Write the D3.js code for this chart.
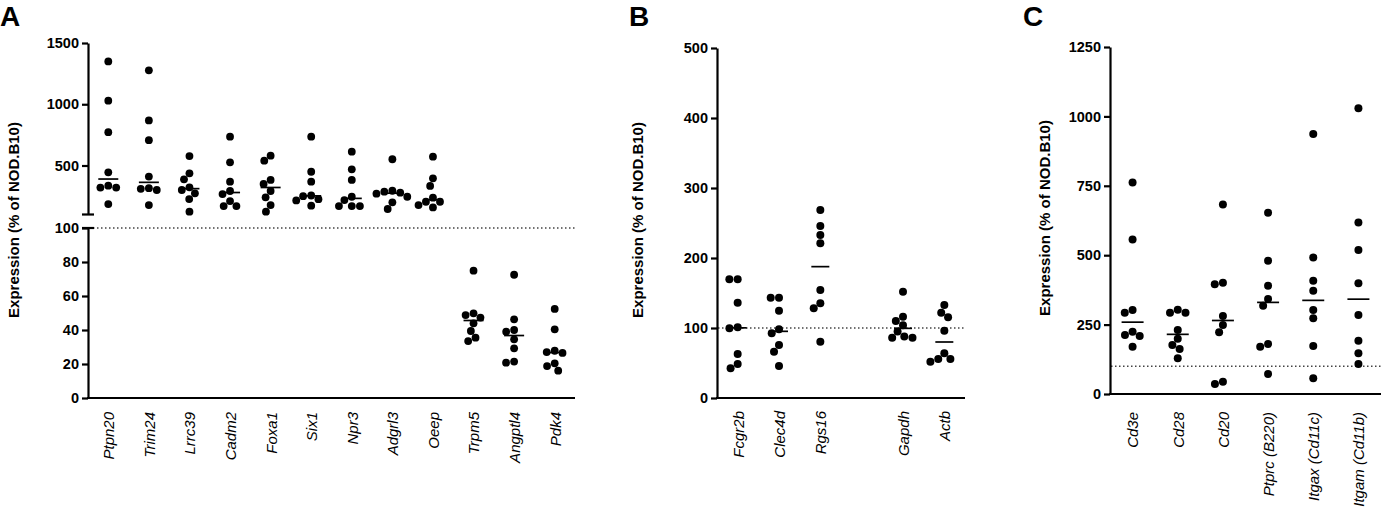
<!DOCTYPE html>
<html>
<head>
<meta charset="utf-8">
<script src="https://cdn.jsdelivr.net/npm/d3@7"></script>
<style>
  body { margin: 0; background: #fff; }
  text { font-family: "Liberation Sans", Arial, sans-serif; }
</style>
</head>
<body>
<svg id="chart" width="1381" height="508"></svg>
<script>
// panel A: genes, expression (% of NOD.B10), one array per gene
const genesA = ['Ptpn20', 'Trim24', 'Lrrc39', 'Cadm2', 'Foxa1', 'Six1', 'Npr3', 'Adgrl3', 'Oeep', 'Trpm5', 'Angptl4', 'Pdk4'];
const valuesA = [
  [1350, 1029, 772, 444, 335, 320, 320, 185],
  [1277, 868, 707, 410, 315, 310, 300, 177],
  [577, 436, 387, 322, 300, 273, 226, 123],
  [735, 526, 368, 292, 267, 210, 169, 169],
  [580, 539, 382, 349, 292, 240, 177, 123],
  [735, 449, 368, 255, 250, 225, 215, 172],
  [613, 469, 382, 245, 218, 169, 169, 169],
  [551, 294, 286, 278, 270, 245, 199, 145],
  [572, 395, 333, 237, 204, 204, 177, 158],
  [74.9, 49.8, 48.8, 47.3, 43.9, 39.4, 35.5, 33.5],
  [72.5, 46.3, 40.0, 39.0, 34.5, 29.2, 21.4, 20.8],
  [52.4, 40.4, 27.8, 27.0, 26.5, 20.4, 18.8, 16.1]
];
const ticksATop = [500, 1000, 1500];
const ticksABottom = [0, 20, 40, 60, 80, 100];

// panel B ('' is the empty slot between the two groups)
const genesB = ['Fcgr2b', 'Clec4d', 'Rgs16', '', 'Gapdh', 'Actb'];
const valuesB = [
  [169.5, 169.5, 136.2, 101, 99.5, 62.9, 48.6, 42.4],
  [143.3, 143.3, 124.8, 98.1, 92.4, 75.7, 66.2, 45.7],
  [268.6, 245.7, 232.9, 221, 154.3, 135.3, 128.1, 80.5],
  [],
  [151.9, 116, 110, 104, 95, 88, 86, 86],
  [132.9, 121.9, 115.2, 96.2, 63.8, 55.7, 55.7, 51.9]
];
const ticksB = [0, 100, 200, 300, 400, 500];

// panel C
const genesC = ['Cd3e', 'Cd28', 'Cd20', 'Ptprc (B220)', 'Itgax (Cd11c)', 'Itgam (Cd11b)'];
const valuesC = [
  [762, 557, 303, 293, 224.5, 212.5, 209, 170.5],
  [303.8, 293, 293, 230.5, 199.3, 176.5, 162, 128.5],
  [683, 401, 395, 281, 248.6, 222, 44.4, 36],
  [653, 480, 390, 342, 318, 180, 170.5, 72],
  [936.6, 492, 408, 372, 302.6, 272.6, 173, 56.4],
  [1029, 618, 518.7, 398.6, 284.6, 192, 146.5, 108]
];
const ticksC = [0, 250, 500, 750, 1000, 1250];

const yTitle = 'Expression (% of NOD.B10)';
const svg = d3.select('#chart');

// simple beeswarm so points with close values sit side by side
function swarm(vals, y, d) {
  const placed = [];
  return vals.map(v => {
    const py = y(v);
    const cands = [0];
    placed.forEach(p => {
      const dy = Math.abs(p.y - py);
      if (dy < d) {
        const dx = Math.sqrt(d * d - dy * dy) + 0.01;
        cands.push(p.x - dx, p.x + dx);
      }
    });
    cands.sort((a, b) => Math.abs(a) - Math.abs(b) || a - b);
    const x = cands.find(c => placed.every(p => (p.x - c) ** 2 + (p.y - py) ** 2 >= d * d - 0.05));
    placed.push({ x: x, y: py });
    return { v: v, x: x, y: py };
  });
}

function styleAxis(g) {
  g.select('.domain').attr('stroke', '#000').attr('stroke-width', 2.2);
  g.selectAll('.tick line').attr('stroke', '#000').attr('stroke-width', 2.2);
  g.selectAll('.tick text')
    .attr('font-family', '"Liberation Sans", Arial, sans-serif')
    .attr('font-size', 14.5)
    .attr('font-weight', 'bold')
    .attr('fill', '#000');
}

function yAxis(g, scale, ticks, x0) {
  const a = g.append('g')
    .attr('transform', `translate(${x0},0)`)
    .call(d3.axisLeft(scale).tickValues(ticks).tickSize(6).tickSizeOuter(0).tickPadding(3).tickFormat(d3.format('d')));
  styleAxis(a);
  return a;
}

function drawPanel(opt) {
  const g = svg.append('g');
  const x = d3.scalePoint().domain(opt.genes).range([opt.x0, opt.x1]).padding(0.5);

  // x axis
  const xa = g.append('g')
    .attr('transform', `translate(0,${opt.yBase})`)
    .call(d3.axisBottom(x).tickSize(0).tickSizeOuter(0).tickFormat(d => d));
  styleAxis(xa);
  xa.select('.domain').attr('d', `M${opt.x0 - 1},0H${opt.x1}`);
  xa.selectAll('.tick text')
    .attr('font-weight', 'normal')
    .attr('font-style', 'italic')
    .attr('font-size', 15)
    .attr('text-anchor', 'end')
    .attr('transform', `translate(0,${opt.labelGap}) rotate(-90)`)
    .attr('x', 0).attr('y', 0).attr('dy', '0.36em');

  // reference line at 100 %
  g.append('line')
    .attr('class', 'ref')
    .attr('x1', opt.x0 + 1).attr('x2', opt.x1)
    .attr('y1', opt.y(100)).attr('y2', opt.y(100))
    .attr('stroke', '#444').attr('stroke-width', 1.3).attr('stroke-dasharray', '1.5,2.5');

  // points and medians
  opt.genes.forEach((gene, i) => {
    const vals = opt.values[i];
    if (!vals.length) return;
    const cx = x(gene);
    const pts = swarm(vals, opt.y, opt.r * 2 + 0.3);
    g.append('line')
      .attr('x1', cx - opt.half).attr('x2', cx + opt.half)
      .attr('y1', opt.y(d3.median(vals))).attr('y2', opt.y(d3.median(vals)))
      .attr('stroke', '#000').attr('stroke-width', 1.7);
    g.selectAll(null).data(pts).join('circle')
      .attr('cx', d => cx + d.x)
      .attr('cy', d => d.y)
      .attr('r', opt.r)
      .attr('fill', '#000');
  });

  // y title and panel letter
  g.append('text')
    .attr('transform', `translate(${opt.titleX},${opt.titleY}) rotate(-90)`)
    .attr('text-anchor', 'middle').attr('dy', '0.35em')
    .attr('font-size', 15).attr('font-weight', 'bold')
    .text(yTitle);
  g.append('text')
    .attr('x', opt.letterX).attr('y', 26)
    .attr('font-size', 28).attr('font-weight', 'bold')
    .text(opt.letter);
  return g;
}

// ---- panel A (broken y axis) ----
const yATop = d3.scaleLinear().domain([100, 1500]).range([214.5, 43]);
const yABot = d3.scaleLinear().domain([0, 100]).range([398, 228]);
const yA = v => (v > 100 ? yATop(v) : yABot(v));

const gA = drawPanel({
  genes: genesA, values: valuesA, x0: 88, x1: 575, yBase: 398, y: yA,
  r: 3.9, half: 10, labelGap: 14, titleX: 14, titleY: 220, letterX: 0, letter: 'A'
});
gA.select('.ref').attr('y1', yABot(100)).attr('y2', yABot(100));
yAxis(gA, yATop, ticksATop, 88);
yAxis(gA, yABot, ticksABottom, 88);
// break caps
[214.5, 228].forEach(yy => {
  gA.append('line').attr('x1', 82).attr('x2', 94).attr('y1', yy).attr('y2', yy)
    .attr('stroke', '#000').attr('stroke-width', 2.2);
});

// ---- panel B ----
const yB = d3.scaleLinear().domain([0, 500]).range([398, 48]);
const gB = drawPanel({
  genes: genesB, values: valuesB, x0: 717, x1: 965, yBase: 398, y: yB,
  r: 4, half: 9, labelGap: 13, titleX: 638, titleY: 220, letterX: 629, letter: 'B'
});
yAxis(gB, yB, ticksB, 717);

// ---- panel C ----
const yC = d3.scaleLinear().domain([0, 1250]).range([394, 47]);
const gC = drawPanel({
  genes: genesC, values: valuesC, x0: 1110, x1: 1381, yBase: 394, y: yC,
  r: 4, half: 11, labelGap: 18, titleX: 1045, titleY: 218, letterX: 1023, letter: 'C'
});
yAxis(gC, yC, ticksC, 1110);
</script>
</body>
</html>
